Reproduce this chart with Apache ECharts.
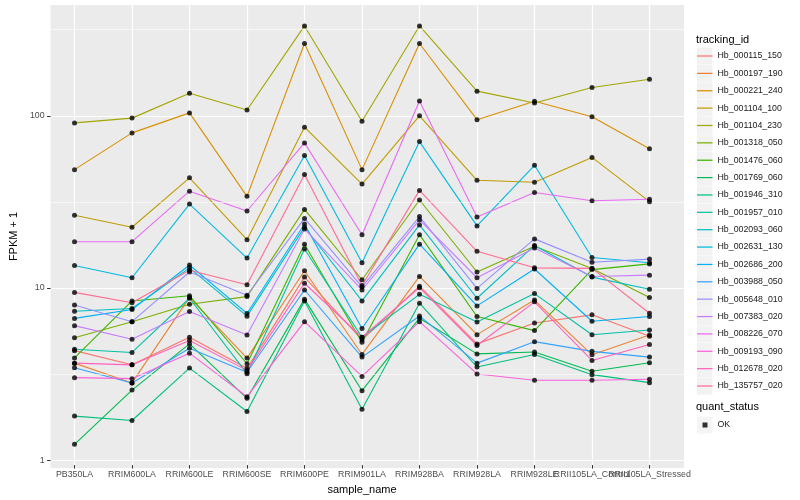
<!DOCTYPE html>
<html><head><meta charset="utf-8">
<script src="https://cdn.jsdelivr.net/npm/echarts@6/dist/echarts.min.js"></script>
<style>html,body{margin:0;padding:0;background:#fff}#c{width:800px;height:500px}</style>
</head><body><div id="c"></div>
<script>
const categories = ['PB350LA','RRIM600LA','RRIM600LE','RRIM600SE','RRIM600PE','RRIM901LA','RRIM928BA','RRIM928LA','RRIM928LE','RRII105LA_Control','RRII105LA_Stressed'];
const trackingIds = ['Hb_000115_150','Hb_000197_190','Hb_000221_240','Hb_001104_100','Hb_001104_230','Hb_001318_050','Hb_001476_060','Hb_001769_060','Hb_001946_310','Hb_001957_010','Hb_002093_060','Hb_002631_130','Hb_002686_200','Hb_003988_050','Hb_005648_010','Hb_007383_020','Hb_008226_070','Hb_009193_090','Hb_012678_020','Hb_135757_020'];

// FPKM + 1 values, one array per tracking_id, in category order
const Hb_000115_150 = [4.2, 3.47, 5.03, 3.31, 11.3, 4.86, 10.0, 4.60, 6.09, 6.8, 5.09];
const Hb_000197_190 = [3.55, 2.72, 8.6, 3.80, 12.3, 3.99, 11.4, 5.21, 8.3, 3.97, 5.18];
const Hb_000221_240 = [48, 78.7, 103, 33.5, 262, 48, 262, 94, 120.5, 97.8, 63.5];
const Hb_001104_100 = [26, 22.1, 43, 18.7, 85, 39.5, 99, 41.6, 40.5, 56.6, 31.2];
const Hb_001104_230 = [90, 96, 134, 107, 332, 92, 332, 138, 117.6, 145, 162];
const Hb_001318_050 = [5.0, 6.2, 7.84, 8.69, 28.1, 10.9, 31.9, 12.1, 17.1, 12.7, 8.58];
const Hb_001476_060 = [3.81, 8.2, 8.8, 3.52, 17.6, 4.70, 20.0, 6.65, 5.5, 12.5, 13.5];
const Hb_001769_060 = [1.19, 2.47, 4.60, 2.21, 8.4, 2.45, 6.5, 4.02, 4.12, 3.18, 3.57];
const Hb_001946_310 = [1.74, 1.64, 3.32, 1.85, 8.2, 1.91, 7.95, 3.37, 3.99, 3.04, 2.73];
const Hb_001957_010 = [4.28, 4.1, 8.5, 3.08, 16.5, 5.03, 8.96, 6.17, 9.05, 5.2, 5.54];
const Hb_002093_060 = [7.13, 7.4, 12.8, 6.68, 22.1, 8.2, 22.8, 8.5, 17.3, 11.3, 9.6];
const Hb_002631_130 = [13.2, 11.2, 30.2, 14.6, 58.1, 13.7, 70, 22.5, 50.9, 14.7, 13.7];
const Hb_002686_200 = [6.48, 7.3, 13.3, 6.93, 23.1, 5.66, 17.6, 7.67, 12.6, 6.24, 6.65];
const Hb_003988_050 = [3.34, 2.72, 4.34, 3.14, 9.5, 3.85, 6.7, 3.55, 4.74, 4.16, 3.85];
const Hb_005648_010 = [7.76, 6.2, 12.1, 8.85, 24.9, 9.9, 25.5, 9.7, 18.9, 13.8, 14.4];
const Hb_007383_020 = [5.88, 4.89, 7.11, 5.18, 21.6, 9.5, 24.4, 11.2, 16.7, 11.4, 11.6];
const Hb_008226_070 = [18.2, 18.2, 35.9, 27.5, 68.8, 20, 121, 25.4, 35.3, 31.6, 32.2];
const Hb_009193_090 = [2.92, 2.88, 4.06, 2.26, 6.2, 2.97, 6.2, 3.07, 2.82, 2.82, 2.86];
const Hb_012678_020 = [3.55, 3.47, 4.81, 3.22, 10.4, 5.03, 9.8, 4.5, 8.1, 3.68, 4.56];
const Hb_135757_020 = [9.2, 8.0, 12.4, 10.2, 45, 10.1, 36.3, 16, 12.8, 12.7, 6.95];

const seriesValues = [Hb_000115_150, Hb_000197_190, Hb_000221_240, Hb_001104_100, Hb_001104_230, Hb_001318_050, Hb_001476_060, Hb_001769_060, Hb_001946_310, Hb_001957_010, Hb_002093_060, Hb_002631_130, Hb_002686_200, Hb_003988_050, Hb_005648_010, Hb_007383_020, Hb_008226_070, Hb_009193_090, Hb_012678_020, Hb_135757_020];

const yTicks = [1, 10, 100];
const yMinorBreaks = [3.1623, 31.623, 316.23];
const quantStatus = 'OK';

const palette = ['#F8766D','#EA8331','#D89000','#C09B00','#A3A500','#7CAE00','#39B600','#00BB4E','#00BF7D','#00C1A3','#00BFC4','#00BAE0','#00B0F6','#35A2FF','#9590FF','#C77CFF','#E76BF3','#FA62DB','#FF62BC','#FF6C91'];

const FONT = 'Liberation Sans, Arial, sans-serif';
const Y_MIN = 0.9, Y_MAX = 440;

const lineSeries = trackingIds.map((id, k) => ({
  name: id, type: 'line', xAxisIndex: 1, yAxisIndex: 1,
  data: seriesValues[k],
  color: palette[k],
  lineStyle: { color: palette[k], width: 1.1 },
  symbol: 'none', showSymbol: false, z: 3, silent: true,
  emphasis: { disabled: true }, animation: false
}));

const pointData = [];
seriesValues.forEach(vals => vals.forEach((v, i) => pointData.push([i, v])));

const legendBase = {
  orient: 'vertical', left: 697, top: 47.5, padding: 0,
  itemWidth: 15.5, itemHeight: 17, itemGap: 0.37,
  selectedMode: false, data: trackingIds
};

const chart = echarts.init(document.getElementById('c'), null, { renderer: 'canvas' });
chart.setOption({
  animation: false,
  textStyle: { fontFamily: FONT },
  title: [
    { text: 'tracking_id', left: 696, top: 34, padding: 0,
      textStyle: { fontSize: 11, fontWeight: 'normal', color: '#000', fontFamily: FONT } },
    { text: 'quant_status', left: 696, top: 401, padding: 0,
      textStyle: { fontSize: 11, fontWeight: 'normal', color: '#000', fontFamily: FONT } }
  ],
  legend: [
    Object.assign({}, legendBase, { icon: 'rect', itemStyle: { color: '#F2F2F2', borderWidth: 0 },
      textStyle: { color: 'rgba(0,0,0,0)', fontSize: 8.8, lineHeight: 17, fontFamily: FONT } }),
    Object.assign({}, legendBase, { icon: 'path://M0,0H20V1.6H0Z', itemStyle: { borderWidth: 0 },
      textStyle: { color: '#1A1A1A', fontSize: 8.8, lineHeight: 17, fontFamily: FONT } }),
    { data: [quantStatus], left: 697, top: 416.5, padding: 0, itemWidth: 15.5, itemHeight: 17,
      icon: 'rect', selectedMode: false, itemStyle: { color: '#F2F2F2', borderWidth: 0 },
      textStyle: { color: '#1A1A1A', fontSize: 8.8, lineHeight: 17, fontFamily: FONT } },
    { data: [quantStatus], left: 702.5, top: 422.5, padding: 0, itemWidth: 5, itemHeight: 5,
      icon: 'rect', selectedMode: false, itemStyle: { borderWidth: 0 },
      textStyle: { color: 'rgba(0,0,0,0)', fontSize: 5, lineHeight: 5 } }
  ],
  grid: [
    { left: 40, top: 5, width: 644, height: 463, show: true, backgroundColor: '#EBEBEB', borderWidth: 0 },
    { left: 45.75, top: 5, width: 632.5, height: 463, show: false }
  ],
  xAxis: [
    { type: 'value', gridIndex: 0, min: 0, max: 1, show: false },
    { type: 'category', gridIndex: 1, data: categories, boundaryGap: true,
      name: 'sample_name', nameLocation: 'middle', nameGap: 14,
      nameTextStyle: { fontSize: 11, color: '#000', fontFamily: FONT },
      axisLine: { show: false },
      axisTick: { show: true, alignWithLabel: true, interval: 0, length: 3.5, lineStyle: { color: '#333333', width: 1 } },
      axisLabel: { interval: 0, hideOverlap: false, margin: 5, fontSize: 8.8, color: '#4D4D4D', fontFamily: FONT },
      splitLine: { show: true, alignWithLabel: true, interval: 0, lineStyle: { color: '#FFFFFF', width: 1.2 } }
    }
  ],
  yAxis: [
    { type: 'log', logBase: 10, gridIndex: 0, min: Y_MIN, max: Y_MAX,
      name: 'FPKM + 1', nameLocation: 'middle', nameGap: 23,
      nameTextStyle: { fontSize: 11, color: '#000', fontFamily: FONT },
      axisLine: { show: false },
      axisTick: { show: true, length: 3.5, customValues: yTicks, lineStyle: { color: '#333333', width: 1 } },
      axisLabel: { margin: 6, fontSize: 8.8, color: '#4D4D4D', fontFamily: FONT, customValues: yTicks,
        formatter: v => String(v) },
      splitLine: { show: true, lineStyle: { color: '#FFFFFF', width: 1.2 } }
    },
    { type: 'log', logBase: 10, gridIndex: 1, min: Y_MIN, max: Y_MAX, show: false,
      splitLine: { show: false }, axisLabel: { show: false }, axisTick: { show: false } }
  ],
  series: [
    { type: 'line', xAxisIndex: 0, yAxisIndex: 0, data: [[0, 1]], symbol: 'none', showSymbol: false,
      lineStyle: { opacity: 0 }, silent: true, z: 1,
      markLine: { silent: true, symbol: ['none', 'none'], label: { show: false }, animation: false,
        lineStyle: { color: '#FFFFFF', width: 0.6, type: 'solid' },
        emphasis: { disabled: true },
        data: yMinorBreaks.map(b => ({ yAxis: b })) } }
  ].concat(lineSeries).concat([
    { name: quantStatus, type: 'scatter', xAxisIndex: 1, yAxisIndex: 1, data: pointData,
      symbol: 'circle', symbolSize: 5, itemStyle: { color: '#000000' }, z: 5, silent: true,
      emphasis: { disabled: true }, animation: false }
  ])
});
</script></body></html>
